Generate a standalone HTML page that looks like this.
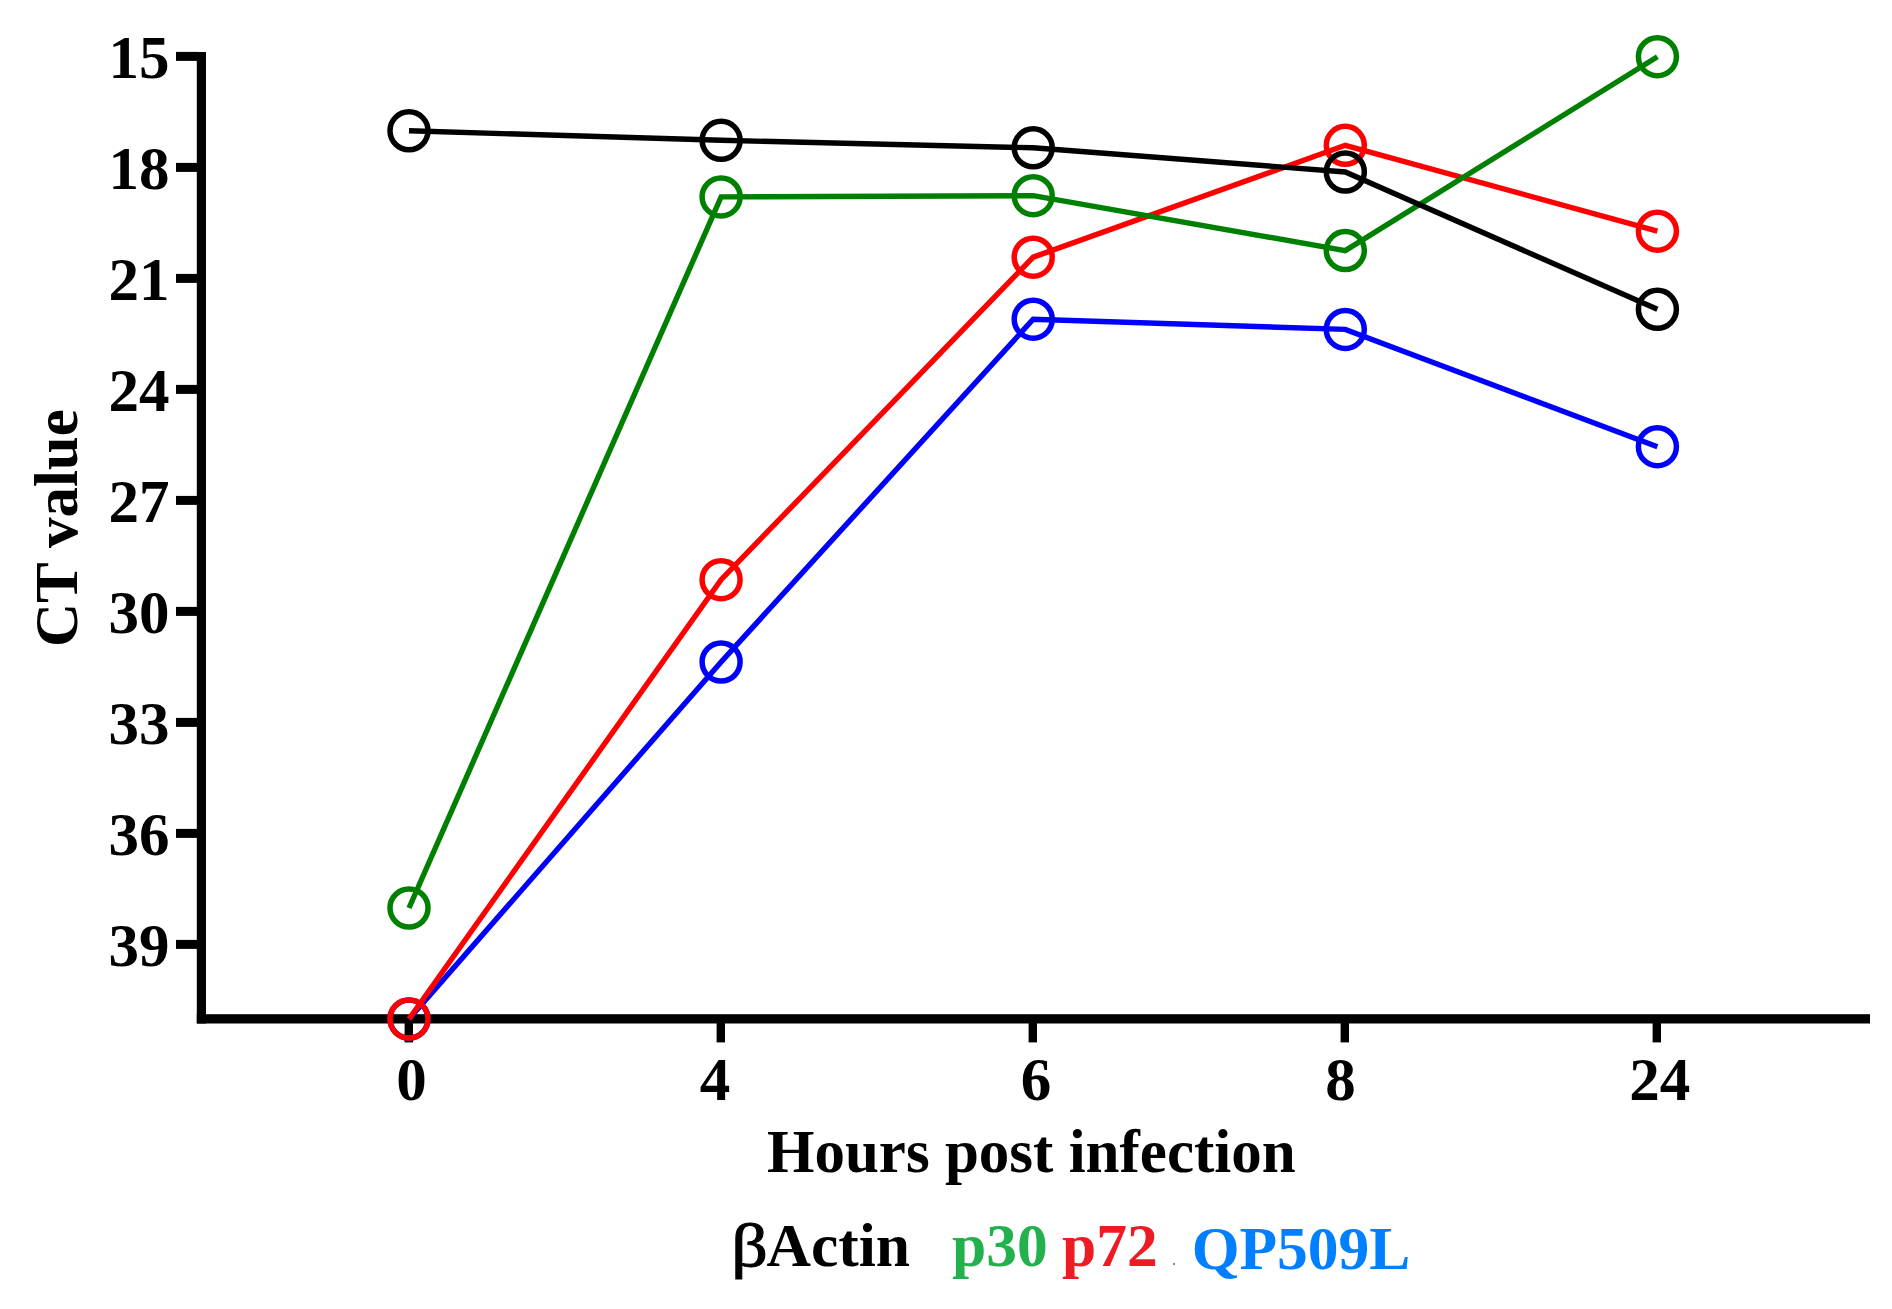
<!DOCTYPE html>
<html><head><meta charset="utf-8"><title>CT value chart</title>
<style>
html,body{margin:0;padding:0;background:#fff;}
body{width:1892px;height:1309px;overflow:hidden;}
svg{display:block;}
text{font-family:"Liberation Serif","Times New Roman",serif;font-weight:bold;font-size:61px;}
</style></head><body>
<svg width="1892" height="1309" viewBox="0 0 1892 1309">
<rect width="1892" height="1309" fill="#fff"/>

<g fill="#000">
<rect x="196.8" y="52" width="9.2" height="971.5"/>
<rect x="196.8" y="1014.2" width="1673.2" height="9.3"/>
<rect x="176" y="51.9" width="22" height="9"/>
<rect x="176" y="162.9" width="22" height="9"/>
<rect x="176" y="273.9" width="22" height="9"/>
<rect x="176" y="384.9" width="22" height="9"/>
<rect x="176" y="495.9" width="22" height="9"/>
<rect x="176" y="606.9" width="22" height="9"/>
<rect x="176" y="717.9" width="22" height="9"/>
<rect x="176" y="828.9" width="22" height="9"/>
<rect x="176" y="939.9" width="22" height="9"/>
<rect x="404.6" y="1020" width="8.4" height="22.4"/>
<rect x="716.6" y="1020" width="8.4" height="22.4"/>
<rect x="1028.6" y="1020" width="8.4" height="22.4"/>
<rect x="1340.6" y="1020" width="8.4" height="22.4"/>
<rect x="1652.6" y="1020" width="8.4" height="22.4"/>
</g>
<g text-anchor="end" fill="#000">
<text x="169.5" y="78.4">15</text>
<text x="169.5" y="189.4">18</text>
<text x="169.5" y="300.4">21</text>
<text x="169.5" y="411.4">24</text>
<text x="169.5" y="522.4">27</text>
<text x="169.5" y="633.4">30</text>
<text x="169.5" y="744.4">33</text>
<text x="169.5" y="855.4">36</text>
<text x="169.5" y="966.4">39</text>
</g>
<g text-anchor="middle" fill="#000">
<text x="411.4" y="1100">0</text>
<text x="715.0" y="1100">4</text>
<text x="1036.0" y="1100">6</text>
<text x="1340.5" y="1100">8</text>
<text x="1659.8" y="1100">24</text>
</g>
<g fill="none" stroke="#0000ff" stroke-width="5.4">
<polyline points="409.0,1019.0 721.1,662.0 1033.2,319.2 1345.3,329.4 1657.4,446.7" stroke-linejoin="miter" stroke-linecap="butt"/>
<circle cx="409.0" cy="1019.0" r="19" stroke-width="5.5"/>
<circle cx="721.1" cy="662.0" r="19" stroke-width="5.5"/>
<circle cx="1033.2" cy="319.2" r="19" stroke-width="5.5"/>
<circle cx="1345.3" cy="329.4" r="19" stroke-width="5.5"/>
<circle cx="1657.4" cy="446.7" r="19" stroke-width="5.5"/>
</g>
<g fill="none" stroke="#ff0000" stroke-width="5.4">
<polyline points="409.0,1019.0 721.1,579.7 1033.2,257.2 1345.3,145.3 1657.4,231.2" stroke-linejoin="miter" stroke-linecap="butt"/>
<circle cx="409.0" cy="1019.0" r="19" stroke-width="5.5"/>
<circle cx="721.1" cy="579.7" r="19" stroke-width="5.5"/>
<circle cx="1033.2" cy="257.2" r="19" stroke-width="5.5"/>
<circle cx="1345.3" cy="145.3" r="19" stroke-width="5.5"/>
<circle cx="1657.4" cy="231.2" r="19" stroke-width="5.5"/>
</g>
<g fill="none" stroke="#008000" stroke-width="5.4">
<polyline points="409.0,908.0 721.1,196.9 1033.2,195.7 1345.3,250.6 1657.4,56.7" stroke-linejoin="miter" stroke-linecap="butt"/>
<circle cx="409.0" cy="908.0" r="19" stroke-width="5.5"/>
<circle cx="721.1" cy="196.9" r="19" stroke-width="5.5"/>
<circle cx="1033.2" cy="195.7" r="19" stroke-width="5.5"/>
<circle cx="1345.3" cy="250.6" r="19" stroke-width="5.5"/>
<circle cx="1657.4" cy="56.7" r="19" stroke-width="5.5"/>
</g>
<g fill="none" stroke="#000000" stroke-width="5.4">
<polyline points="409.0,130.8 721.1,140.3 1033.2,147.8 1345.3,172.0 1657.4,309.3" stroke-linejoin="miter" stroke-linecap="butt"/>
<circle cx="409.0" cy="130.8" r="19" stroke-width="5.5"/>
<circle cx="721.1" cy="140.3" r="19" stroke-width="5.5"/>
<circle cx="1033.2" cy="147.8" r="19" stroke-width="5.5"/>
<circle cx="1345.3" cy="172.0" r="19" stroke-width="5.5"/>
<circle cx="1657.4" cy="309.3" r="19" stroke-width="5.5"/>
</g>
<text x="767" y="1172" fill="#000">Hours post infection</text>
<text transform="translate(77.2,647) rotate(-90)" fill="#000">CT value</text>
<text transform="translate(731.3,1265.8) scale(1.2,1.02)" x="0" y="0" fill="#000" stroke="#000" stroke-width="1.0" stroke-linejoin="round" style="font-size:60px;font-weight:normal">β</text>
<text x="766.5" y="1265.5" fill="#000" style="font-size:61.5px">Actin</text>
<text x="952" y="1266" fill="#22b14c" style="font-size:61.5px">p30</text>
<text x="1062" y="1266" fill="#ed1c24" style="font-size:61.5px">p72</text>
<text x="1191.7" y="1268.5" fill="#0080ff" style="font-size:61.5px">QP509L</text>
<rect x="1173" y="1263" width="2" height="2" fill="#7092be"/>
</svg></body></html>
